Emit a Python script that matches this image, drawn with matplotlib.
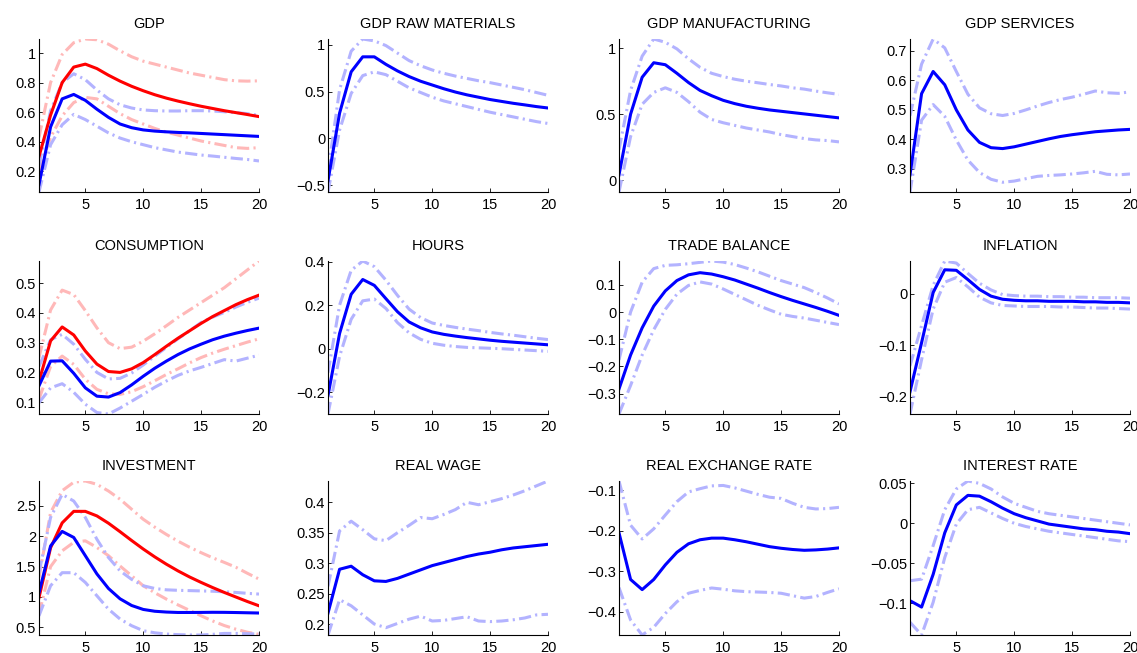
import numpy as np
import matplotlib
matplotlib.use("Agg")
import matplotlib.pyplot as plt
from matplotlib.ticker import FuncFormatter

plt.rcParams['font.family'] = ['Liberation Sans', 'DejaVu Sans']

horizon = list(range(1, 21))

# ---- GDP ----
gdp_b = [0.11,0.50,0.69,0.72,0.68,0.62,0.565,0.52,0.495,0.48,0.472,0.467,0.463,0.46,0.456,0.452,0.448,0.444,0.44,0.436]
gdp_b_hi = [0.24,0.61,0.80,0.86,0.82,0.75,0.69,0.65,0.628,0.615,0.61,0.608,0.608,0.61,0.61,0.608,0.603,0.597,0.59,0.578]
gdp_b_lo = [0.06,0.38,0.515,0.585,0.55,0.505,0.46,0.425,0.40,0.38,0.36,0.345,0.33,0.32,0.31,0.303,0.295,0.287,0.28,0.27]
gdp_r = [0.30,0.58,0.80,0.905,0.925,0.895,0.85,0.81,0.775,0.745,0.718,0.695,0.675,0.657,0.64,0.625,0.61,0.597,0.584,0.57]
gdp_r_hi = [0.43,0.80,0.99,1.07,1.095,1.09,1.06,1.015,0.975,0.945,0.925,0.905,0.885,0.865,0.85,0.835,0.82,0.812,0.81,0.812]
gdp_r_lo = [0.20,0.43,0.575,0.665,0.70,0.69,0.64,0.59,0.55,0.52,0.49,0.465,0.445,0.425,0.405,0.39,0.375,0.36,0.355,0.36]

# ---- GDP RAW MATERIALS ----
raw_b = [-0.45,0.27,0.71,0.87,0.87,0.79,0.72,0.66,0.61,0.57,0.53,0.495,0.465,0.44,0.415,0.395,0.375,0.358,0.34,0.325]
raw_b_hi = [-0.35,0.52,0.93,1.06,1.04,0.99,0.91,0.83,0.775,0.73,0.695,0.665,0.64,0.615,0.595,0.57,0.545,0.52,0.49,0.46]
raw_b_lo = [-0.57,0.09,0.48,0.67,0.71,0.68,0.61,0.54,0.49,0.44,0.40,0.37,0.34,0.31,0.28,0.255,0.23,0.205,0.18,0.16]

# ---- GDP MANUFACTURING ----
man_b = [0.04,0.50,0.78,0.89,0.875,0.81,0.74,0.68,0.64,0.605,0.58,0.56,0.545,0.532,0.522,0.512,0.502,0.492,0.482,0.472]
man_b_hi = [0.23,0.68,0.94,1.07,1.045,0.995,0.92,0.855,0.81,0.785,0.765,0.75,0.738,0.725,0.714,0.70,0.69,0.675,0.662,0.65]
man_b_lo = [-0.09,0.33,0.575,0.665,0.70,0.665,0.595,0.515,0.46,0.435,0.415,0.395,0.38,0.365,0.345,0.33,0.315,0.305,0.30,0.29]

# ---- GDP SERVICES ----
ser_b = [0.28,0.555,0.63,0.585,0.50,0.432,0.39,0.372,0.369,0.375,0.384,0.393,0.402,0.41,0.416,0.421,0.426,0.429,0.432,0.434]
ser_b_hi = [0.48,0.655,0.74,0.71,0.63,0.553,0.507,0.487,0.481,0.488,0.50,0.513,0.525,0.535,0.543,0.553,0.564,0.558,0.556,0.561]
ser_b_lo = [0.222,0.465,0.518,0.478,0.398,0.33,0.288,0.265,0.255,0.259,0.267,0.275,0.278,0.28,0.283,0.287,0.292,0.282,0.28,0.283]

# ---- CONSUMPTION ----
con_b = [0.155,0.238,0.239,0.197,0.148,0.12,0.117,0.132,0.158,0.187,0.214,0.238,0.26,0.279,0.295,0.31,0.322,0.332,0.341,0.349]
con_b_hi = [0.22,0.31,0.328,0.295,0.244,0.20,0.178,0.18,0.198,0.225,0.255,0.284,0.313,0.34,0.368,0.386,0.402,0.42,0.436,0.45]
con_b_lo = [0.098,0.148,0.162,0.133,0.093,0.065,0.06,0.08,0.103,0.126,0.15,0.171,0.19,0.205,0.217,0.23,0.243,0.238,0.248,0.258]
con_r = [0.17,0.306,0.353,0.326,0.272,0.228,0.203,0.20,0.212,0.233,0.26,0.288,0.315,0.34,0.365,0.388,0.408,0.428,0.445,0.46]
con_r_hi = [0.25,0.41,0.477,0.462,0.408,0.35,0.30,0.28,0.285,0.305,0.33,0.357,0.385,0.41,0.435,0.46,0.485,0.515,0.545,0.575]
con_r_lo = [0.11,0.22,0.255,0.227,0.177,0.143,0.128,0.126,0.135,0.152,0.172,0.193,0.212,0.232,0.25,0.265,0.278,0.29,0.302,0.313]

# ---- HOURS ----
hrs_b = [-0.215,0.07,0.25,0.318,0.291,0.23,0.17,0.123,0.096,0.077,0.066,0.058,0.051,0.045,0.039,0.034,0.03,0.026,0.022,0.018]
hrs_b_hi = [-0.11,0.20,0.36,0.403,0.377,0.315,0.245,0.182,0.143,0.118,0.107,0.098,0.09,0.083,0.075,0.068,0.062,0.055,0.048,0.042]
hrs_b_lo = [-0.30,-0.035,0.135,0.22,0.228,0.185,0.12,0.073,0.043,0.025,0.016,0.01,0.006,0.004,0.002,0.0,-0.003,-0.006,-0.009,-0.012]

# ---- TRADE BALANCE ----
tb_b = [-0.283,-0.158,-0.058,0.022,0.078,0.116,0.137,0.145,0.14,0.13,0.118,0.103,0.088,0.072,0.057,0.043,0.03,0.017,0.003,-0.012]
tb_b_hi = [-0.176,0.0,0.11,0.16,0.172,0.174,0.178,0.183,0.188,0.184,0.175,0.162,0.148,0.132,0.116,0.103,0.09,0.072,0.052,0.03]
tb_b_lo = [-0.375,-0.27,-0.158,-0.065,0.01,0.066,0.098,0.111,0.103,0.085,0.065,0.045,0.025,0.008,-0.008,-0.016,-0.022,-0.03,-0.038,-0.046]

# ---- INFLATION ----
inf_b = [-0.19,-0.095,0.002,0.046,0.045,0.027,0.008,-0.005,-0.011,-0.013,-0.014,-0.014,-0.015,-0.015,-0.015,-0.016,-0.016,-0.017,-0.017,-0.018]
inf_b_hi = [-0.14,-0.062,0.016,0.063,0.059,0.039,0.02,0.007,-0.002,-0.004,-0.005,-0.005,-0.006,-0.006,-0.007,-0.007,-0.008,-0.008,-0.008,-0.009]
inf_b_lo = [-0.233,-0.128,-0.03,0.022,0.031,0.013,-0.007,-0.018,-0.023,-0.024,-0.025,-0.025,-0.025,-0.026,-0.026,-0.027,-0.028,-0.028,-0.029,-0.03]

# ---- INVESTMENT ----
inv_b = [1.07,1.84,2.08,1.98,1.68,1.38,1.14,0.97,0.86,0.795,0.765,0.752,0.745,0.745,0.746,0.748,0.747,0.744,0.74,0.736]
inv_b_hi = [1.40,2.31,2.69,2.58,2.31,1.95,1.65,1.43,1.29,1.185,1.14,1.118,1.11,1.105,1.10,1.095,1.085,1.075,1.06,1.048]
inv_b_lo = [0.69,1.185,1.40,1.40,1.24,1.02,0.80,0.637,0.527,0.445,0.41,0.39,0.38,0.375,0.374,0.385,0.40,0.40,0.395,0.39]
inv_r = [0.99,1.81,2.22,2.41,2.41,2.335,2.215,2.075,1.93,1.79,1.66,1.54,1.43,1.33,1.24,1.155,1.075,1.0,0.925,0.855]
inv_r_hi = [1.32,2.39,2.75,2.89,2.91,2.855,2.745,2.61,2.445,2.28,2.15,2.03,1.92,1.82,1.73,1.645,1.57,1.49,1.39,1.295]
inv_r_lo = [0.72,1.50,1.76,1.90,1.925,1.815,1.68,1.51,1.35,1.185,1.07,0.965,0.87,0.78,0.69,0.605,0.53,0.47,0.42,0.385]

# ---- REAL WAGE ----
rw_b = [0.218,0.29,0.295,0.281,0.271,0.27,0.275,0.282,0.289,0.296,0.301,0.306,0.311,0.315,0.318,0.322,0.325,0.327,0.329,0.331]
rw_b_hi = [0.262,0.353,0.369,0.355,0.34,0.337,0.35,0.362,0.375,0.373,0.38,0.388,0.40,0.396,0.401,0.406,0.412,0.419,0.427,0.435]
rw_b_lo = [0.182,0.24,0.23,0.215,0.20,0.194,0.201,0.208,0.213,0.205,0.206,0.209,0.212,0.205,0.204,0.205,0.207,0.21,0.215,0.216]

# ---- REAL EXCHANGE RATE ----
rer_b = [-0.205,-0.32,-0.345,-0.32,-0.284,-0.253,-0.232,-0.222,-0.218,-0.218,-0.222,-0.227,-0.233,-0.239,-0.243,-0.246,-0.248,-0.247,-0.245,-0.242]
rer_b_hi = [-0.077,-0.186,-0.22,-0.195,-0.161,-0.128,-0.104,-0.096,-0.089,-0.088,-0.094,-0.102,-0.11,-0.117,-0.12,-0.132,-0.142,-0.146,-0.145,-0.142]
rer_b_lo = [-0.34,-0.42,-0.457,-0.438,-0.404,-0.375,-0.354,-0.347,-0.341,-0.344,-0.348,-0.35,-0.351,-0.352,-0.354,-0.36,-0.366,-0.362,-0.352,-0.343]

# ---- INTEREST RATE ----
ir_b = [-0.097,-0.105,-0.064,-0.012,0.023,0.035,0.034,0.027,0.019,0.012,0.007,0.003,-0.001,-0.003,-0.005,-0.007,-0.008,-0.01,-0.011,-0.013]
ir_b_hi = [-0.072,-0.07,-0.028,0.017,0.043,0.053,0.05,0.043,0.033,0.025,0.02,0.015,0.012,0.01,0.008,0.006,0.004,0.002,0.0,-0.002]
ir_b_lo = [-0.124,-0.14,-0.099,-0.043,-0.001,0.017,0.02,0.013,0.006,0.0,-0.004,-0.007,-0.01,-0.012,-0.014,-0.016,-0.018,-0.02,-0.022,-0.023]

titles = ["GDP", "GDP RAW MATERIALS", "GDP MANUFACTURING", "GDP SERVICES",
          "CONSUMPTION", "HOURS", "TRADE BALANCE", "INFLATION",
          "INVESTMENT", "REAL WAGE", "REAL EXCHANGE RATE", "INTEREST RATE"]

blue_lines = [gdp_b, raw_b, man_b, ser_b, con_b, hrs_b, tb_b, inf_b, inv_b, rw_b, rer_b, ir_b]
blue_hi = [gdp_b_hi, raw_b_hi, man_b_hi, ser_b_hi, con_b_hi, hrs_b_hi, tb_b_hi, inf_b_hi, inv_b_hi, rw_b_hi, rer_b_hi, ir_b_hi]
blue_lo = [gdp_b_lo, raw_b_lo, man_b_lo, ser_b_lo, con_b_lo, hrs_b_lo, tb_b_lo, inf_b_lo, inv_b_lo, rw_b_lo, rer_b_lo, ir_b_lo]
red_lines = {0: (gdp_r, gdp_r_hi, gdp_r_lo), 4: (con_r, con_r_hi, con_r_lo), 8: (inv_r, inv_r_hi, inv_r_lo)}

yticks = [
    [0.2, 0.4, 0.6, 0.8, 1.0],
    [-0.5, 0, 0.5, 1.0],
    [0, 0.5, 1.0],
    [0.3, 0.4, 0.5, 0.6, 0.7],
    [0.1, 0.2, 0.3, 0.4, 0.5],
    [-0.2, 0, 0.2, 0.4],
    [-0.3, -0.2, -0.1, 0, 0.1],
    [-0.2, -0.1, 0],
    [0.5, 1.0, 1.5, 2.0, 2.5],
    [0.2, 0.25, 0.3, 0.35, 0.4],
    [-0.4, -0.3, -0.2, -0.1],
    [-0.1, -0.05, 0, 0.05],
]
xticks = [5, 10, 15, 20]

BLUE = (0, 0, 1)
LBLUE = (0.70, 0.70, 1.0)
RED = (1, 0, 0)
LRED = (1.0, 0.72, 0.72)
DASH = (4.0, 1.4, 0.7, 1.4)


def fmt(v, pos):
    s = "%g" % round(v, 6)
    return s.replace("-", "\u2212")


W, H = 1137, 653
fig = plt.figure(figsize=(W / 100, H / 100), dpi=100)

col_left = [39, 328, 619, 910]
row_top = [39, 261, 481]
row_bot = [192, 414, 635]
ax_w = 220

for i in range(12):
    r, c = divmod(i, 4)
    ax = fig.add_axes([col_left[c] / W, 1 - row_bot[r] / H, ax_w / W, (row_bot[r] - row_top[r]) / H])
    if i in red_lines:
        rl, rh, rlo = red_lines[i]
        ax.plot(horizon, rh, color=LRED, lw=2.2, dashes=DASH)
        ax.plot(horizon, rlo, color=LRED, lw=2.2, dashes=DASH)
    ax.plot(horizon, blue_hi[i], color=LBLUE, lw=2.2, dashes=DASH)
    ax.plot(horizon, blue_lo[i], color=LBLUE, lw=2.2, dashes=DASH)
    if i in red_lines:
        ax.plot(horizon, red_lines[i][0], color=RED, lw=2.2)
    ax.plot(horizon, blue_lines[i], color=BLUE, lw=2.2)

    ax.set_xlim(1, 20)
    ax.margins(x=0, y=0)
    ax.autoscale(axis='y', tight=True)
    ax.set_xticks(xticks)
    ax.set_yticks(yticks[i])
    ax.yaxis.set_major_formatter(FuncFormatter(fmt))
    for s in ['top', 'right']:
        ax.spines[s].set_visible(False)
    for s in ['left', 'bottom']:
        ax.spines[s].set_linewidth(0.8)
    ax.tick_params(direction='in', length=3, width=0.6, labelsize=10.5)
    ax.tick_params(axis='x', pad=4)
    ax.tick_params(axis='y', pad=2)
    ax.set_title(titles[i], fontsize=10.5, pad=8)

fig.savefig("out.png", dpi=100)
